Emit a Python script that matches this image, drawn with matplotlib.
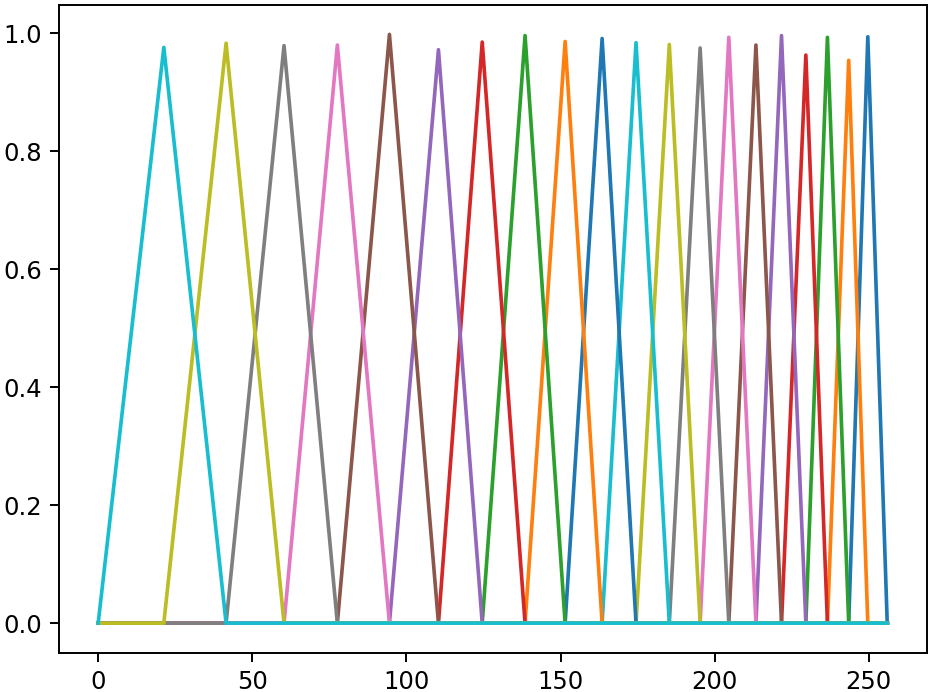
import matplotlib
matplotlib.use('Agg')
import matplotlib.pyplot as plt

# 三角滤波器的边界点（频率 bin），滤波器 i 用 edges[i], edges[i+1], edges[i+2]
edges = [0, 21.3, 41.5, 60.3, 77.6, 94.5, 110.4, 124.6, 138.5, 151.5, 163.5,
         174.5, 185.3, 195.3, 204.6, 213.4, 221.7, 229.6, 236.6, 243.5, 249.7, 256]
# 每个滤波器的峰值高度
heights = [0.976, 0.983, 0.979, 0.980, 0.998, 0.972, 0.985, 0.996, 0.986, 0.991,
           0.984, 0.981, 0.975, 0.993, 0.980, 0.996, 0.963, 0.993, 0.954, 0.994]
n_bins = 256


def draw_the_curve():
    fig = plt.figure(figsize=(935 / 175, 692 / 175), dpi=175)
    ax = fig.add_axes([0.0628, 0.057, 0.9283, 0.9358])
    # 倒序绘制，所以第一个滤波器是青色
    for i in reversed(range(len(heights))):
        left, mid, right = edges[i], edges[i + 1], edges[i + 2]
        ax.plot([0, left, mid, right, n_bins], [0, 0, heights[i], 0, 0])
    fig.savefig('out.png', dpi=175)


if __name__ == '__main__':
    draw_the_curve()
